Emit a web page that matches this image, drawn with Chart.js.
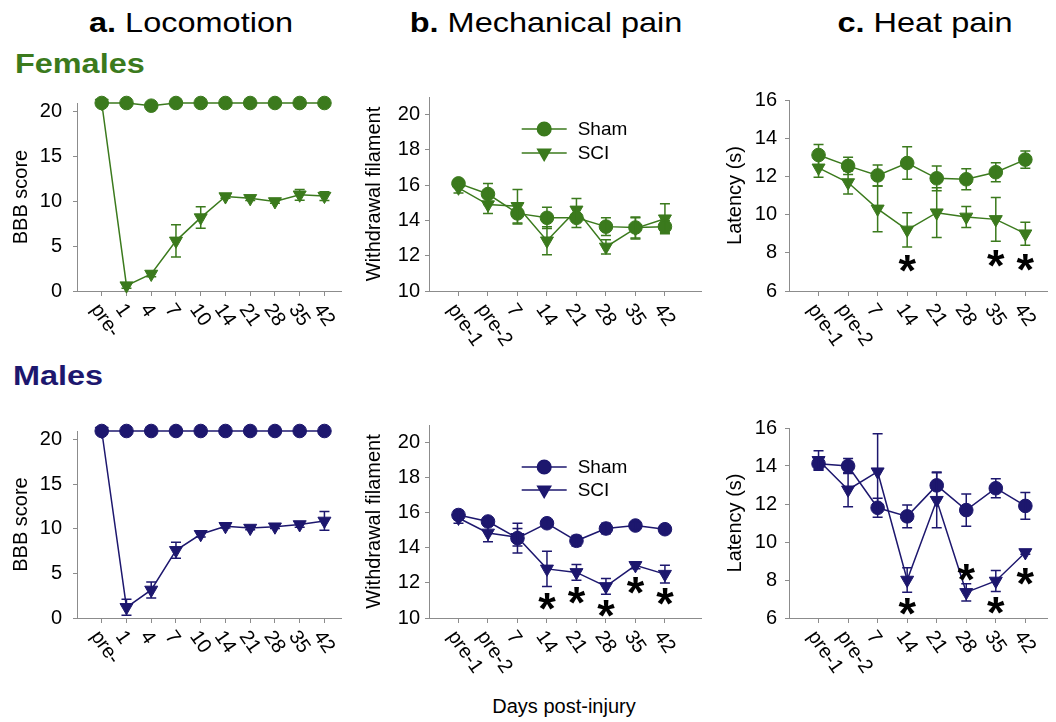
<!DOCTYPE html>
<html><head><meta charset="utf-8">
<script src="https://cdn.jsdelivr.net/npm/chart.js@4.4.1/dist/chart.umd.min.js"></script>
<style>
html,body{margin:0;padding:0;background:#fff;}
body{width:1056px;height:722px;overflow:hidden;position:relative;font-family:"Liberation Sans",Arial,sans-serif;}
canvas{position:absolute;}
.t{position:absolute;white-space:nowrap;line-height:1;color:#000;}
.ttl{font-size:28px;transform:translateX(-50%) scaleX(1.16);transform-origin:50% 50%;}
.sex{font-size:27px;font-weight:bold;transform:scaleX(1.2);transform-origin:0 50%;}
</style></head><body>
<div class="t ttl" style="left:191px;top:9px;"><b>a.</b> Locomotion</div>
<div class="t ttl" style="left:546px;top:9px;"><b>b.</b> Mechanical pain</div>
<div class="t ttl" style="left:925px;top:9px;"><b>c.</b> Heat pain</div>
<div class="t sex" style="left:15px;top:51px;color:#3b7a1d;">Females</div>
<div class="t sex" style="left:13px;top:363px;color:#1d176e;">Males</div>
<div class="t" style="left:564px;top:696px;font-size:20px;transform:translateX(-50%);">Days post-injury</div>
<canvas id="aF" width="350" height="301" style="left:0;top:80px"></canvas>
<canvas id="bF" width="358" height="301" style="left:352px;top:80px"></canvas>
<canvas id="cF" width="344" height="301" style="left:712px;top:80px"></canvas>
<canvas id="aM" width="350" height="300" style="left:0;top:408px"></canvas>
<canvas id="bM" width="358" height="300" style="left:352px;top:408px"></canvas>
<canvas id="cM" width="344" height="300" style="left:712px;top:408px"></canvas>
<script>
// ---------- data ----------
const seriesNames = ['Sham', 'SCI'];
const aLabels = ['pre-', '1', '4', '7', '10', '14', '21', '28', '35', '42'];
const bcLabels = ['pre-1', 'pre-2', '7', '14', '21', '28', '35', '42'];
const aYTicks = [0, 5, 10, 15, 20];
const bYTicks = [10, 12, 14, 16, 18, 20];
const cYTicks = [6, 8, 10, 12, 14, 16];

// a. Locomotion (BBB score)
const aF_sham = [21, 21, 20.7, 21, 21, 21, 21, 21, 21, 21];
const aF_shamErr = [0, 0, 0, 0, 0, 0, 0, 0, 0, 0];
const aF_sci = [21, 0.6, 1.9, 5.6, 8.2, 10.55, 10.35, 10.0, 10.75, 10.6];
const aF_sciErr = [0, 0.3, 0.3, 1.8, 1.2, 0.2, 0.25, 0.2, 0.6, 0.5];
const aM_sham = [21, 21, 21, 21, 21, 21, 21, 21, 21, 21];
const aM_shamErr = [0, 0, 0, 0, 0, 0, 0, 0, 0, 0];
const aM_sci = [21, 1.2, 3.15, 7.6, 9.4, 10.3, 10.1, 10.25, 10.5, 10.9];
const aM_sciErr = [0, 0.9, 0.9, 0.9, 0.3, 0.2, 0.2, 0.2, 0.3, 1.05];

// b. Mechanical pain (withdrawal filament)
const bF_sham = [16.1, 15.5, 14.4, 14.15, 14.15, 13.65, 13.6, 13.65];
const bF_shamErr = [0.2, 0.6, 0.6, 0.6, 0.55, 0.5, 0.6, 0.35];
const bF_sci = [15.85, 14.9, 14.8, 12.85, 14.6, 12.5, 13.55, 14.1];
const bF_sciErr = [0.3, 0.5, 0.95, 0.8, 0.65, 0.4, 0.6, 0.85];
const bM_sham = [15.87, 15.5, 14.55, 15.4, 14.4, 15.1, 15.27, 15.06];
const bM_shamErr = [0.25, 0.2, 0.85, 0.2, 0.3, 0.3, 0.2, 0.2];
const bM_sci = [15.7, 14.85, 14.6, 12.8, 12.6, 11.8, 13.0, 12.5];
const bM_sciErr = [0.3, 0.5, 0.5, 1.0, 0.45, 0.45, 0.2, 0.5];

// c. Heat pain (latency, s)
const cF_sham = [13.12, 12.55, 12.05, 12.7, 11.9, 11.85, 12.22, 12.88];
const cF_shamErr = [0.55, 0.45, 0.55, 0.85, 0.65, 0.55, 0.5, 0.45];
const cF_sci = [12.45, 11.68, 10.3, 9.2, 10.1, 9.88, 9.75, 9.0];
const cF_sciErr = [0.5, 0.6, 1.2, 0.9, 1.3, 0.55, 1.15, 0.6];
const cM_sham = [14.12, 14.0, 11.8, 11.35, 12.98, 11.68, 12.83, 11.9];
const cM_shamErr = [0.35, 0.4, 0.5, 0.6, 0.7, 0.85, 0.5, 0.7];
const cM_sci = [14.3, 12.75, 13.7, 8.0, 12.2, 7.35, 7.95, 9.45];
const cM_sciErr = [0.5, 0.9, 2.0, 0.65, 1.45, 0.45, 0.55, 0.1];

// significance markers: [category index, y value]
const cF_stars = [[3, 7.46], [6, 7.71], [7, 7.47]];
const bM_stars = [[3, 10.93], [4, 11.3], [5, 10.56], [6, 11.86], [7, 11.21]];
const cM_stars = [[3, 6.59], [5, 8.42], [6, 6.68], [7, 8.2]];

// ---------- styling ----------
const GREEN = '#3b7a1d', NAVY = '#1d176e', AXIS = '#8c8c8c';
const FONT = '"Liberation Sans", Arial, sans-serif';
Chart.defaults.font.family = FONT;

const drawPlugin = {
  id: 'drawExtras',
  afterDatasetsDraw(chart, args, o) {
    const ctx = chart.ctx, xs = chart.scales.x, ys = chart.scales.y, ca = chart.chartArea;
    // error bars
    chart.data.datasets.forEach(ds => {
      ctx.save();
      ctx.strokeStyle = ds.borderColor; ctx.lineWidth = 1.5;
      ds.data.forEach((p, i) => {
        const e = ds.errors[i]; if (!e) return;
        const x = xs.getPixelForValue(p.x);
        const y1 = ys.getPixelForValue(p.y - e), y2 = ys.getPixelForValue(p.y + e);
        ctx.beginPath();
        ctx.moveTo(x, y1); ctx.lineTo(x, y2);
        ctx.moveTo(x - 5, y1); ctx.lineTo(x + 5, y1);
        ctx.moveTo(x - 5, y2); ctx.lineTo(x + 5, y2);
        ctx.stroke();
      });
      ctx.restore();
    });
    // rotated category labels
    ctx.save();
    ctx.font = '20px ' + FONT; ctx.fillStyle = '#000';
    ctx.textAlign = 'left'; ctx.textBaseline = 'middle';
    o.labels.forEach((l, i) => {
      const x = xs.getPixelForValue(i);
      ctx.save(); ctx.translate(x - 7, xs.top + 15); ctx.rotate(55 * Math.PI / 180);
      ctx.fillText(l, 0, 0); ctx.restore();
    });
    ctx.restore();
    // legend
    if (o.legend) {
      ctx.save();
      chart.data.datasets.forEach((ds, k) => {
        const y = ca.top + o.legend.y0 + k * o.legend.dy;
        const x0 = ca.left + o.legend.x0;
        ctx.strokeStyle = ds.borderColor; ctx.fillStyle = ds.borderColor; ctx.lineWidth = 1.5;
        ctx.beginPath(); ctx.moveTo(x0, y); ctx.lineTo(x0 + 45, y); ctx.stroke();
        Chart.helpers.drawPoint(ctx, {pointStyle: ds.pointStyle, rotation: ds.pointRotation, radius: ds.pointRadius, borderWidth: 1}, x0 + 22.5, y);
        ctx.fillStyle = '#000'; ctx.font = '19px ' + FONT; ctx.textAlign = 'left'; ctx.textBaseline = 'middle';
        ctx.fillText(ds.label, x0 + 56, y + 1);
      });
      ctx.restore();
    }
    // asterisks
    if (o.stars) {
      ctx.save();
      ctx.font = 'bold 45px ' + FONT; ctx.fillStyle = '#000'; ctx.textAlign = 'center'; ctx.textBaseline = 'alphabetic';
      const m = ctx.measureText('*');
      const off = (m.actualBoundingBoxAscent - m.actualBoundingBoxDescent) / 2;
      o.stars.forEach(([i, v]) => {
        ctx.fillText('*', xs.getPixelForValue(i), ys.getPixelForValue(v) + off);
      });
      ctx.restore();
    }
  }
};

function ds(label, vals, errs, color, tri) {
  return {
    label, data: vals.map((v, i) => ({x: i, y: v})), errors: errs,
    borderColor: color, backgroundColor: color, pointBackgroundColor: color, pointBorderColor: color,
    borderWidth: 1.5, pointBorderWidth: 1, tension: 0, clip: false,
    pointStyle: tri ? 'triangle' : 'circle', pointRotation: tri ? 180 : 0, pointRadius: tri ? 7.5 : 6.8
  };
}

function makeChart(id, c) {
  new Chart(document.getElementById(id), {
    type: 'line',
    data: {datasets: [
      ds(seriesNames[0], c.sham, c.shamErr, c.color, false),
      ds(seriesNames[1], c.sci, c.sciErr, c.color, true)
    ]},
    plugins: [drawPlugin],
    options: {
      responsive: false, animation: false, events: [],
      layout: {padding: {top: 14, right: c.padRight, left: 0, bottom: 0}},
      plugins: {legend: {display: false}, tooltip: {enabled: false},
        drawExtras: {labels: c.labels, legend: c.legend, stars: c.stars}},
      scales: {
        x: {type: 'linear', min: -1, max: c.xMax,
          afterBuildTicks: s => { s.ticks = c.labels.map((_, i) => ({value: i})); },
          afterFit: s => { s.height = 90; },
          ticks: {display: false},
          grid: {drawOnChartArea: false, drawTicks: true, tickLength: 5, color: AXIS, lineWidth: 1},
          border: {color: AXIS, width: 1}},
        y: {type: 'linear', min: c.yMin, max: c.yMax,
          afterBuildTicks: s => { s.ticks = c.yTicks.map(v => ({value: v})); },
          afterFit: s => { s.width = 77; },
          ticks: {font: {size: 20}, color: '#000', padding: c.tickPad},
          grid: {drawOnChartArea: false, drawTicks: true, tickLength: 4, color: AXIS},
          border: {color: AXIS, width: 1},
          title: {display: true, text: c.yTitle, color: '#000', font: {size: 20}, padding: {top: c.titlePad, bottom: 0}}}
      }
    }
  });
}

const aCommon = {labels: aLabels, yTicks: aYTicks, yMin: 0, yMax: 21, xMax: 9.69, padRight: 8, tickPad: 11, titlePad: 9, yTitle: 'BBB score'};
const bCommon = {labels: bcLabels, yTicks: bYTicks, yMin: 10, yMax: 21, xMax: 8.24, padRight: 0, tickPad: 5, titlePad: 10, yTitle: 'Withdrawal filament'};
const cCommon = {labels: bcLabels, yTicks: cYTicks, yMin: 6, yMax: 16, xMax: 7.75, padRight: 0, tickPad: 8, titlePad: 11, yTitle: 'Latency (s)'};

makeChart('aF', Object.assign({}, aCommon, {color: GREEN, sham: aF_sham, shamErr: aF_shamErr, sci: aF_sci, sciErr: aF_sciErr}));
makeChart('aM', Object.assign({}, aCommon, {color: NAVY, sham: aM_sham, shamErr: aM_shamErr, sci: aM_sci, sciErr: aM_sciErr}));
makeChart('bF', Object.assign({}, bCommon, {color: GREEN, sham: bF_sham, shamErr: bF_shamErr, sci: bF_sci, sciErr: bF_sciErr, legend: {x0: 92.7, y0: 32, dy: 24}}));
makeChart('bM', Object.assign({}, bCommon, {color: NAVY, sham: bM_sham, shamErr: bM_shamErr, sci: bM_sci, sciErr: bM_sciErr, legend: {x0: 92.7, y0: 42, dy: 23}, stars: bM_stars}));
makeChart('cF', Object.assign({}, cCommon, {color: GREEN, sham: cF_sham, shamErr: cF_shamErr, sci: cF_sci, sciErr: cF_sciErr, stars: cF_stars}));
makeChart('cM', Object.assign({}, cCommon, {color: NAVY, sham: cM_sham, shamErr: cM_shamErr, sci: cM_sci, sciErr: cM_sciErr, stars: cM_stars}));
</script>
</body></html>
